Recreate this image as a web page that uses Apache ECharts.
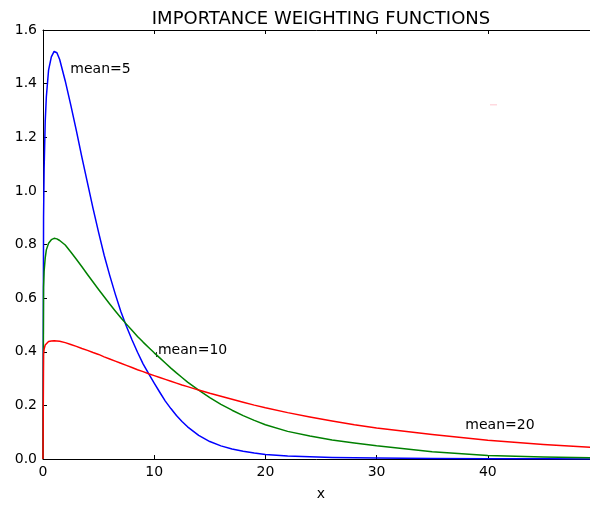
<!DOCTYPE html>
<html><head><meta charset="utf-8">
<script src="https://cdn.jsdelivr.net/npm/echarts@6/dist/echarts.min.js"></script>
<style>html,body{margin:0;padding:0;background:#fff}#c{width:590px;height:506px}</style>
</head><body><div id="c"></div>
<script>
const titleText = 'IMPORTANCE WEIGHTING FUNCTIONS';
const xName = 'x';
const xs = [0, 0.05, 0.1, 0.2, 0.3, 0.5, 0.75, 1, 1.25, 1.5, 2, 2.5, 3, 3.5, 4, 4.5, 5, 5.5, 6, 6.5, 7, 7.5, 8, 8.5, 9, 9.5, 10, 10.5, 11, 11.5, 12, 12.5, 13, 14, 15, 16, 17, 18, 19, 20, 22, 24, 26, 28, 30, 35, 40, 45, 50];
const mean5 = [0, 0.90, 1.08, 1.26, 1.35, 1.45, 1.50, 1.52, 1.515, 1.49, 1.41, 1.32, 1.225, 1.125, 1.03, 0.935, 0.845, 0.76, 0.685, 0.615, 0.55, 0.495, 0.445, 0.398, 0.355, 0.318, 0.283, 0.249, 0.216, 0.188, 0.162, 0.14, 0.12, 0.088, 0.065, 0.049, 0.037, 0.029, 0.022, 0.017, 0.011, 0.008, 0.006, 0.005, 0.004, 0.002, 0.001, 0.0005, 0.0003];
const mean10 = [0, 0.64, 0.70, 0.75, 0.78, 0.805, 0.818, 0.823, 0.821, 0.815, 0.798, 0.772, 0.745, 0.717, 0.688, 0.66, 0.632, 0.605, 0.578, 0.552, 0.527, 0.503, 0.48, 0.457, 0.436, 0.416, 0.396, 0.377, 0.358, 0.339, 0.321, 0.304, 0.287, 0.257, 0.229, 0.204, 0.182, 0.162, 0.144, 0.128, 0.103, 0.086, 0.071, 0.06, 0.049, 0.027, 0.013, 0.007, 0.004];
const mean20 = [0, 0.39, 0.41, 0.425, 0.432, 0.438, 0.44, 0.441, 0.44, 0.439, 0.434, 0.427, 0.42, 0.412, 0.405, 0.397, 0.39, 0.381, 0.373, 0.365, 0.357, 0.349, 0.341, 0.333, 0.326, 0.318, 0.311, 0.304, 0.297, 0.29, 0.283, 0.276, 0.27, 0.257, 0.245, 0.234, 0.223, 0.212, 0.201, 0.191, 0.173, 0.157, 0.142, 0.128, 0.116, 0.091, 0.07, 0.054, 0.042];
const labelTexts = ['mean=5', 'mean=10', 'mean=20'];
const labelX = [2.46, 10.34, 37.98];
const labelY = [1.436, 0.388, 0.108];

const FONT = 'DejaVu Sans';
const chart = echarts.init(document.getElementById('c'), null, {renderer: 'canvas'});
const pair = ys => xs.map((x, i) => [x, ys[i]]);
const axisCommon = {
  axisLine: {show: true, onZero: false, lineStyle: {color: '#000', width: 1}},
  axisTick: {show: true, inside: true, length: 4, lineStyle: {color: '#000', width: 1}},
  splitLine: {show: false}
};
const lineSeries = (data, color) => ({
  type: 'line', data: pair(data), showSymbol: false, symbol: 'none',
  smooth: false,
  lineStyle: {color: color, width: 1.5, join: 'round'}, itemStyle: {color: color},
  xAxisIndex: 0, yAxisIndex: 0, clip: true, animation: false
});
chart.setOption({
  animation: false,
  textStyle: {fontFamily: FONT},
  grid: {left: 43, top: 30, width: 556, height: 429, containLabel: false, outerBoundsMode: 'none'},
  xAxis: [
    Object.assign({type: 'value', min: 0, max: 50, interval: 10, position: 'bottom',
      name: xName, nameLocation: 'middle', nameGap: 28,
      nameTextStyle: {fontSize: 14, color: '#000', fontFamily: FONT},
      axisLabel: {fontSize: 14, color: '#000', margin: 6, fontFamily: FONT, showMaxLabel: false}}, axisCommon),
    Object.assign({type: 'value', min: 0, max: 50, interval: 10, position: 'top',
      axisLabel: {show: false}}, axisCommon)
  ],
  yAxis: [
    Object.assign({type: 'value', min: 0, max: 1.6, interval: 0.2, position: 'left',
      axisLabel: {fontSize: 14, color: '#000', margin: 6, fontFamily: FONT,
        formatter: v => v.toFixed(1)}}, axisCommon)
  ],
  series: [
    lineSeries(mean5, '#0000ff'),
    lineSeries(mean10, '#008000'),
    lineSeries(mean20, '#ff0000')
  ]
});

const gfx = [{
  type: 'text', x: 321, y: 10.5,
  style: {text: titleText, fontSize: 18, fontFamily: FONT, fill: '#000', align: 'center', verticalAlign: 'top'}
}];
labelTexts.forEach((t, i) => {
  const p = chart.convertToPixel({gridIndex: 0}, [labelX[i], labelY[i]]);
  gfx.push({type: 'text', x: p[0], y: p[1] - 11.5,
    style: {text: t, fontSize: 14, fontFamily: FONT, fill: '#000', align: 'left', verticalAlign: 'top'}});
});
gfx.push({type: 'rect', shape: {x: 490, y: 104, width: 7, height: 1.5}, style: {fill: '#ffd9df'}});
gfx.push({type: 'line', shape: {x1: 156.5, y1: 352, x2: 156.5, y2: 357}, style: {stroke: '#333', lineWidth: 1}});
chart.setOption({graphic: gfx});
</script></body></html>
